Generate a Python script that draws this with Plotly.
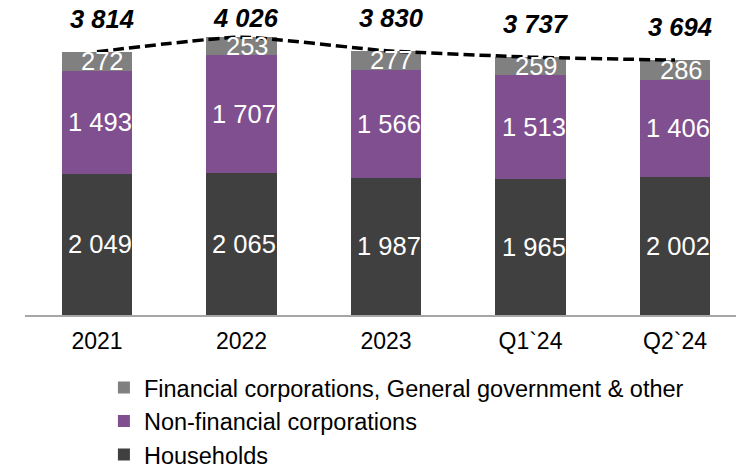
import plotly.graph_objects as go

# Deposits by sector
periods = ["2021", "2022", "2023", "Q1`24", "Q2`24"]
households = [2049, 2065, 1987, 1965, 2002]
non_financial = [1493, 1707, 1566, 1513, 1406]
financial_other = [272, 253, 277, 259, 286]
totals = [3814, 4026, 3830, 3737, 3694]

series_names = [
    "Households",
    "Non-financial corporations",
    "Financial corporations, General government & other",
]
series_values = [households, non_financial, financial_other]
series_colors = ["#404040", "#7F4F8F", "#808080"]

FONT = "Liberation Sans, Arial, sans-serif"
W, H = 736, 465
M_L, M_R, M_T, M_B = 25, 0, 0, 150
PLOT_H = H - M_T - M_B
Y_MAX = 4565
PX_PER_UNIT = PLOT_H / Y_MAX


def fmt(v):
    return f"{v:,}".replace(",", " ")


fig = go.Figure()

for name, vals, color in zip(series_names, series_values, series_colors):
    fig.add_trace(go.Bar(
        x=periods, y=vals, name=name,
        marker=dict(color=color, line=dict(width=0)),
        width=0.485,
    ))

# Dashed line across the stack tops
fig.add_trace(go.Scatter(
    x=periods, y=totals, mode="lines", showlegend=False, hoverinfo="skip",
    line=dict(color="#000000", width=3.5, dash="11px,5px", shape="spline", smoothing=0.5),
))

annotations = []
# Segment values, centred in each segment (x given as category index)
for k, vals in enumerate(series_values):
    base = [0] * len(periods)
    for j in range(k):
        base = [b + v for b, v in zip(base, series_values[j])]
    for i in range(len(periods)):
        annotations.append(dict(
            x=i, y=base[i] + vals[i] / 2, xref="x", yref="y",
            text=fmt(vals[i]), showarrow=False,
            xshift=3 if k < 2 else 6,
            font=dict(family=FONT, size=25.5, color="#FFFFFF"),
        ))

# Totals above the stacks, kept inside the top of the chart
top_limit = Y_MAX - 18 / PX_PER_UNIT
for i in range(len(periods)):
    y_lbl = min(totals[i] + 33 / PX_PER_UNIT, top_limit)
    annotations.append(dict(
        x=i, y=y_lbl, xref="x", yref="y",
        text=f"<b><i>{fmt(totals[i])}</i></b>", showarrow=False, xshift=5,
        font=dict(family=FONT, size=25.5, color="#000000"),
    ))

fig.update_layout(
    width=W, height=H,
    margin=dict(l=M_L, r=M_R, t=M_T, b=M_B, pad=0, autoexpand=False),
    paper_bgcolor="#FFFFFF", plot_bgcolor="#FFFFFF",
    barmode="stack",
    font=dict(family=FONT, color="#000000"),
    annotations=annotations,
    showlegend=True,
    legend=dict(
        orientation="v", traceorder="reversed",
        x=0.111, xanchor="left", y=-0.161, yanchor="top",
        font=dict(family=FONT, size=23.5, color="#000000"),
        bgcolor="rgba(0,0,0,0)", borderwidth=0, tracegroupgap=0,
    ),
    xaxis=dict(
        type="category", range=[-0.498, 4.422],
        showline=True, linecolor="#A6A6A6", linewidth=2,
        ticks="", showgrid=False, zeroline=False, ticklabelstandoff=4,
        tickfont=dict(family=FONT, size=23, color="#000000"),
    ),
    yaxis=dict(range=[0, Y_MAX], visible=False, showgrid=False, zeroline=False),
)

fig.write_html("out.html")
